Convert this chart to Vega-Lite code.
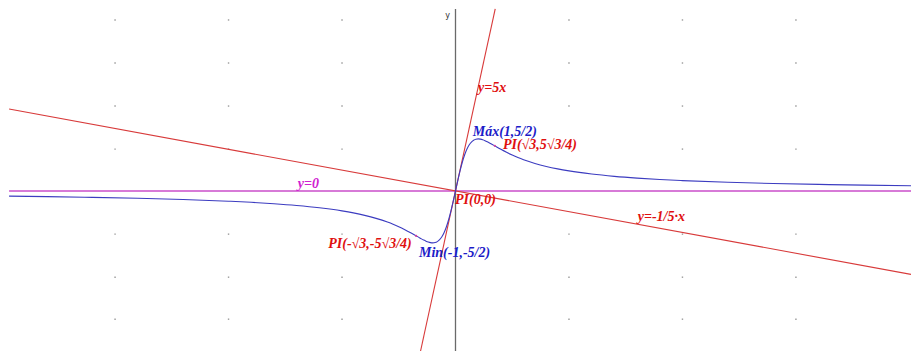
{
  "$schema": "https://vega.github.io/schema/vega-lite/v6.json",
  "width": 911,
  "height": 351,
  "autosize": "none",
  "padding": 0,
  "background": "white",
  "config": {"view": {"stroke": null}},
  "datasets": {
    "curve": [
      {"x": -19.67, "y": -0.2535}, {"x": -18, "y": -0.2769}, {"x": -16, "y": -0.3113}, {"x": -14, "y": -0.3553},
      {"x": -12, "y": -0.4138}, {"x": -10, "y": -0.4950}, {"x": -9, "y": -0.5488}, {"x": -8, "y": -0.6154},
      {"x": -7, "y": -0.7}, {"x": -6, "y": -0.8108}, {"x": -5, "y": -0.9615}, {"x": -4.5, "y": -1.0588},
      {"x": -4, "y": -1.1765}, {"x": -3.5, "y": -1.3208}, {"x": -3, "y": -1.5}, {"x": -2.75, "y": -1.6058},
      {"x": -2.5, "y": -1.7241}, {"x": -2.25, "y": -1.8557}, {"x": -2, "y": -2.0}, {"x": -1.8, "y": -2.1226},
      {"x": -1.6, "y": -2.2472}, {"x": -1.5, "y": -2.3077}, {"x": -1.4, "y": -2.3649}, {"x": -1.3, "y": -2.4164},
      {"x": -1.2, "y": -2.4590}, {"x": -1.1, "y": -2.4887}, {"x": -1.0, "y": -2.5}, {"x": -0.9, "y": -2.4862},
      {"x": -0.8, "y": -2.4390}, {"x": -0.7, "y": -2.3490}, {"x": -0.6, "y": -2.2059}, {"x": -0.5, "y": -2.0},
      {"x": -0.4, "y": -1.7241}, {"x": -0.3, "y": -1.3761}, {"x": -0.2, "y": -0.9615}, {"x": -0.1, "y": -0.4950},
      {"x": 0, "y": 0},
      {"x": 0.1, "y": 0.4950}, {"x": 0.2, "y": 0.9615}, {"x": 0.3, "y": 1.3761}, {"x": 0.4, "y": 1.7241},
      {"x": 0.5, "y": 2.0}, {"x": 0.6, "y": 2.2059}, {"x": 0.7, "y": 2.3490}, {"x": 0.8, "y": 2.4390},
      {"x": 0.9, "y": 2.4862}, {"x": 1.0, "y": 2.5}, {"x": 1.1, "y": 2.4887}, {"x": 1.2, "y": 2.4590},
      {"x": 1.3, "y": 2.4164}, {"x": 1.4, "y": 2.3649}, {"x": 1.5, "y": 2.3077}, {"x": 1.6, "y": 2.2472},
      {"x": 1.8, "y": 2.1226}, {"x": 2, "y": 2.0}, {"x": 2.25, "y": 1.8557}, {"x": 2.5, "y": 1.7241},
      {"x": 2.75, "y": 1.6058}, {"x": 3, "y": 1.5}, {"x": 3.5, "y": 1.3208}, {"x": 4, "y": 1.1765},
      {"x": 4.5, "y": 1.0588}, {"x": 5, "y": 0.9615}, {"x": 6, "y": 0.8108}, {"x": 7, "y": 0.7},
      {"x": 8, "y": 0.6154}, {"x": 9, "y": 0.5488}, {"x": 10, "y": 0.4950}, {"x": 12, "y": 0.4138},
      {"x": 14, "y": 0.3553}, {"x": 16, "y": 0.3113}, {"x": 18, "y": 0.2769}, {"x": 20.07, "y": 0.2485}
    ],
    "lines": [
      {"s": "axis", "x": 0, "y": 8.75}, {"s": "axis", "x": 0, "y": -7.7},
      {"s": "asym", "x": -19.67, "y": 0}, {"s": "asym", "x": 20.07, "y": 0},
      {"s": "tangent", "x": -1.54, "y": -7.7}, {"s": "tangent", "x": 1.75, "y": 8.75},
      {"s": "normal", "x": -19.67, "y": 3.934}, {"s": "normal", "x": 20.07, "y": -4.014}
    ],
    "grid": [
      {"x": -15, "y": 8.22}, {"x": -10, "y": 8.22}, {"x": -5, "y": 8.22}, {"x": 5, "y": 8.22}, {"x": 10, "y": 8.22}, {"x": 15, "y": 8.22},
      {"x": -15, "y": 6.15}, {"x": -10, "y": 6.15}, {"x": -5, "y": 6.15}, {"x": 5, "y": 6.15}, {"x": 10, "y": 6.15}, {"x": 15, "y": 6.15},
      {"x": -15, "y": 4.08}, {"x": -10, "y": 4.08}, {"x": -5, "y": 4.08}, {"x": 5, "y": 4.08}, {"x": 10, "y": 4.08}, {"x": 15, "y": 4.08},
      {"x": -15, "y": 2.01}, {"x": -10, "y": 2.01}, {"x": -5, "y": 2.01}, {"x": 5, "y": 2.01}, {"x": 10, "y": 2.01}, {"x": 15, "y": 2.01},
      {"x": -15, "y": -2.08}, {"x": -10, "y": -2.08}, {"x": -5, "y": -2.08}, {"x": 5, "y": -2.08}, {"x": 10, "y": -2.08}, {"x": 15, "y": -2.08},
      {"x": -15, "y": -4.15}, {"x": -10, "y": -4.15}, {"x": -5, "y": -4.15}, {"x": 5, "y": -4.15}, {"x": 10, "y": -4.15}, {"x": 15, "y": -4.15},
      {"x": -15, "y": -6.17}, {"x": -10, "y": -6.17}, {"x": -5, "y": -6.17}, {"x": 5, "y": -6.17}, {"x": 10, "y": -6.17}, {"x": 15, "y": -6.17}
    ],
    "ipts": [
      {"x": 1.732, "y": 2.165}, {"x": -1.732, "y": -2.165}
    ],
    "labels": [
      {"t": "y=5x", "x": 0.99, "y": 4.95, "c": "red", "a": "left"},
      {"t": "Máx(1,5/2)", "x": 0.76, "y": 2.85, "c": "blue", "a": "left"},
      {"t": "PI(√3,5√3/4)", "x": 2.09, "y": 2.21, "c": "red", "a": "left"},
      {"t": "PI(0,0)", "x": -0.02, "y": -0.44, "c": "red", "a": "left"},
      {"t": "PI(-√3,-5√3/4)", "x": -1.93, "y": -2.57, "c": "red", "a": "right"},
      {"t": "Min(-1,-5/2)", "x": -1.61, "y": -3.0, "c": "blue", "a": "left"},
      {"t": "y=0", "x": -6.95, "y": 0.33, "c": "magenta", "a": "left"},
      {"t": "y=-1/5·x", "x": 8.03, "y": -1.24, "c": "red", "a": "left"}
    ],
    "axlabel": [
      {"t": "y", "x": -0.343, "y": 8.42}
    ]
  },
  "encoding": {
    "x": {"field": "x", "type": "quantitative", "scale": {"domain": [-20.07, 20.07], "nice": false, "zero": false}, "axis": null},
    "y": {"field": "y", "type": "quantitative", "scale": {"domain": [-7.7, 9.18], "nice": false, "zero": false}, "axis": null}
  },
  "layer": [
    {
      "data": {"name": "grid"},
      "mark": {"type": "point", "shape": "square", "filled": true, "size": 2, "color": "#9a9a9a", "opacity": 1}
    },
    {
      "data": {"name": "lines"},
      "transform": [{"filter": "datum.s === 'asym'"}],
      "mark": {"type": "line", "color": "#d77ad7", "strokeWidth": 2},
      "encoding": {}
    },
    {
      "data": {"name": "lines"},
      "transform": [{"filter": "datum.s === 'axis'"}],
      "mark": {"type": "line", "color": "#6a6a6a", "strokeWidth": 1.3},
      "encoding": {}
    },
    {
      "data": {"name": "lines"},
      "transform": [{"filter": "datum.s === 'tangent'"}],
      "mark": {"type": "line", "color": "#d83a3a", "strokeWidth": 1.1},
      "encoding": {}
    },
    {
      "data": {"name": "lines"},
      "transform": [{"filter": "datum.s === 'normal'"}],
      "mark": {"type": "line", "color": "#d83a3a", "strokeWidth": 1.1},
      "encoding": {}
    },
    {
      "data": {"name": "curve"},
      "mark": {"type": "line", "color": "#3c3cc0", "strokeWidth": 1.1, "interpolate": "monotone"},
      "encoding": {}
    },
    {
      "data": {"name": "ipts"},
      "mark": {"type": "point", "shape": "circle", "filled": true, "size": 5, "color": "#d040a0", "opacity": 1}
    },
    {
      "data": {"name": "labels"},
      "transform": [{"filter": "datum.a === 'left'"}],
      "mark": {"type": "text", "align": "left", "baseline": "middle", "font": "Liberation Serif", "fontSize": 14, "fontWeight": "bold", "fontStyle": "italic"},
      "encoding": {
        "text": {"field": "t"},
        "color": {"field": "c", "type": "nominal", "scale": {"domain": ["red", "blue", "magenta"], "range": ["#e01010", "#1c1cc8", "#d020d0"]}, "legend": null}
      }
    },
    {
      "data": {"name": "labels"},
      "transform": [{"filter": "datum.a === 'right'"}],
      "mark": {"type": "text", "align": "right", "baseline": "middle", "font": "Liberation Serif", "fontSize": 14, "fontWeight": "bold", "fontStyle": "italic"},
      "encoding": {
        "text": {"field": "t"},
        "color": {"field": "c", "type": "nominal", "scale": {"domain": ["red", "blue", "magenta"], "range": ["#e01010", "#1c1cc8", "#d020d0"]}, "legend": null}
      }
    },
    {
      "data": {"name": "axlabel"},
      "mark": {"type": "text", "align": "center", "baseline": "middle", "font": "DejaVu Sans", "fontSize": 8, "color": "#333333"},
      "encoding": {"text": {"field": "t"}}
    }
  ]
}
